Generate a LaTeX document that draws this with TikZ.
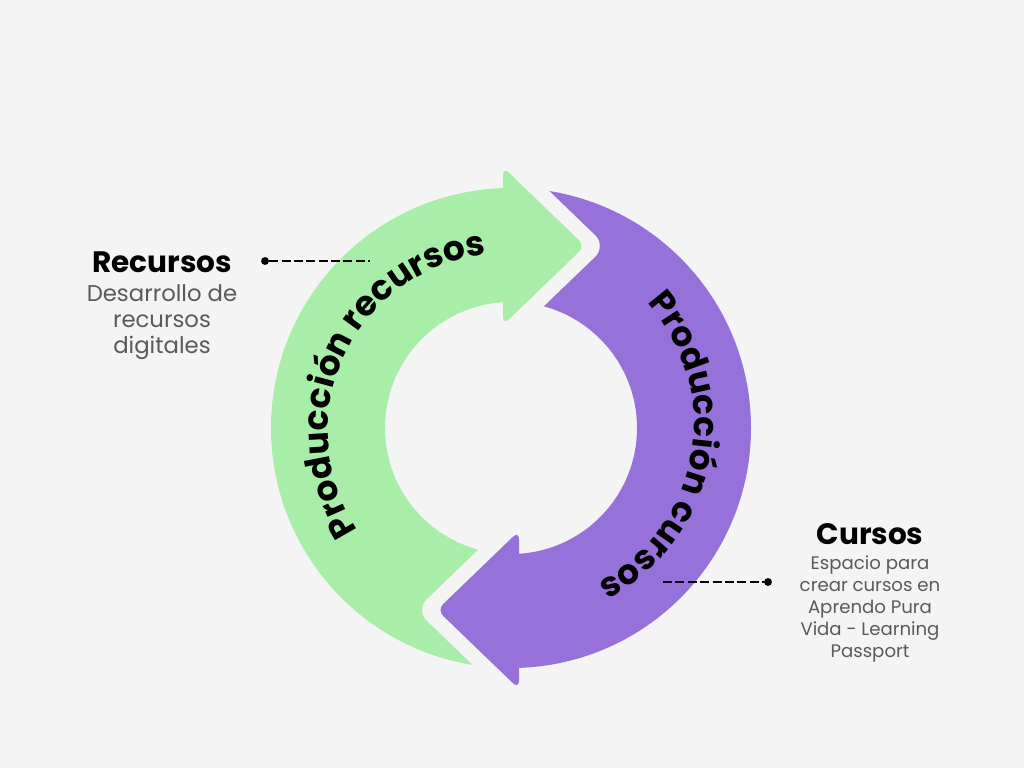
\documentclass[tikz,border=0pt]{standalone}
\usepackage{fontspec}
\setmainfont{Poppins}
\usetikzlibrary{arrows.meta,positioning,calc,decorations.text}
\definecolor{bgcol}{HTML}{F4F4F4}
\definecolor{arcgreen}{HTML}{A8EDA8}
\definecolor{arcpurple}{HTML}{9771DA}
\definecolor{desccol}{HTML}{5A5A5A}
\newcommand{\arcfont}{\fontsize{24.5}{29}\selectfont\bfseries}

\begin{document}
\begin{tikzpicture}[x=0.025cm, y=0.025cm,
  gapline/.style={draw=bgcol, line width=21pt, line join=round, line cap=round},
  leader/.style={line width=1.4pt, dash pattern=on 6.4pt off 2.4pt},
  dot/.style={circle, fill=black, inner sep=0pt, minimum size=5.6pt},
  ttl/.style={font=\fontsize{21}{24}\selectfont\bfseries, inner sep=0pt},
  dsc/.style={font=\fontsize{16.2}{18.5}\selectfont, text=desccol, align=center, inner sep=0pt},
  dscsmall/.style={font=\fontsize{12.9}{15.5}\selectfont, text=desccol, align=center, inner sep=0pt}]
  \fill[bgcol] (-511,-340) rectangle (513,428);
  \useasboundingbox (-511,-340) rectangle (513,428);

  \fill[arcgreen] (90:240) arc[start angle=90, end angle=270, radius=240]
    -- (270:126) arc[start angle=270, end angle=90, radius=126] -- cycle;
  \draw[gapline] (8,-261) -- (-74,-182) -- (8,-103);
  \fill[arcpurple] (-90:240) arc[start angle=-90, end angle=90, radius=240]
    -- (90:126) arc[start angle=90, end angle=-90, radius=126] -- cycle;
  \fill[arcpurple, rounded corners=6] (8,-182) -- (8,-261) -- (-74,-182) -- (8,-103) -- cycle;
  \draw[gapline] (-8,261) -- (74,182) -- (-8,103);
  \fill[arcgreen, rounded corners=6] (-8,182) -- (-8,261) -- (74,182) -- (-8,103) -- cycle;

  \path[decorate, decoration={text along path, text align=center,
    text={|\arcfont|Producción recursos}}]
    ($(-4,-4)+(245:179)$) arc[start angle=245, end angle=65, radius=179];
  \path[decorate, decoration={text along path, text align=center,
    text={|\arcfont|Producción cursos}}]
    ($(4,4)+(75:179)$) arc[start angle=75, end angle=-95, radius=179];

  \node[dot] (rdot) at (-246,167) {};
  \coordinate (rend) at (-141,167);
  \draw[leader] (rdot) -- (rend);
  \node[dot] (cdot) at (257,-154) {};
  \coordinate (cend) at (152,-154);
  \draw[leader] (cend) -- (cdot);

  \node[ttl, anchor=base] (rtitle) at (-349,155) {Recursos};
  \node[dsc, below=8pt of rtitle] (rdesc) {Desarrollo de\\recursos\\digitales};
  \node[ttl, anchor=base] (ctitle) at (359,-116) {Cursos};
  \node[dscsmall, below=8pt of ctitle] (cdesc) {Espacio para\\crear cursos en\\Aprendo Pura\\Vida - Learning\\Passport};
\end{tikzpicture}
\end{document}
